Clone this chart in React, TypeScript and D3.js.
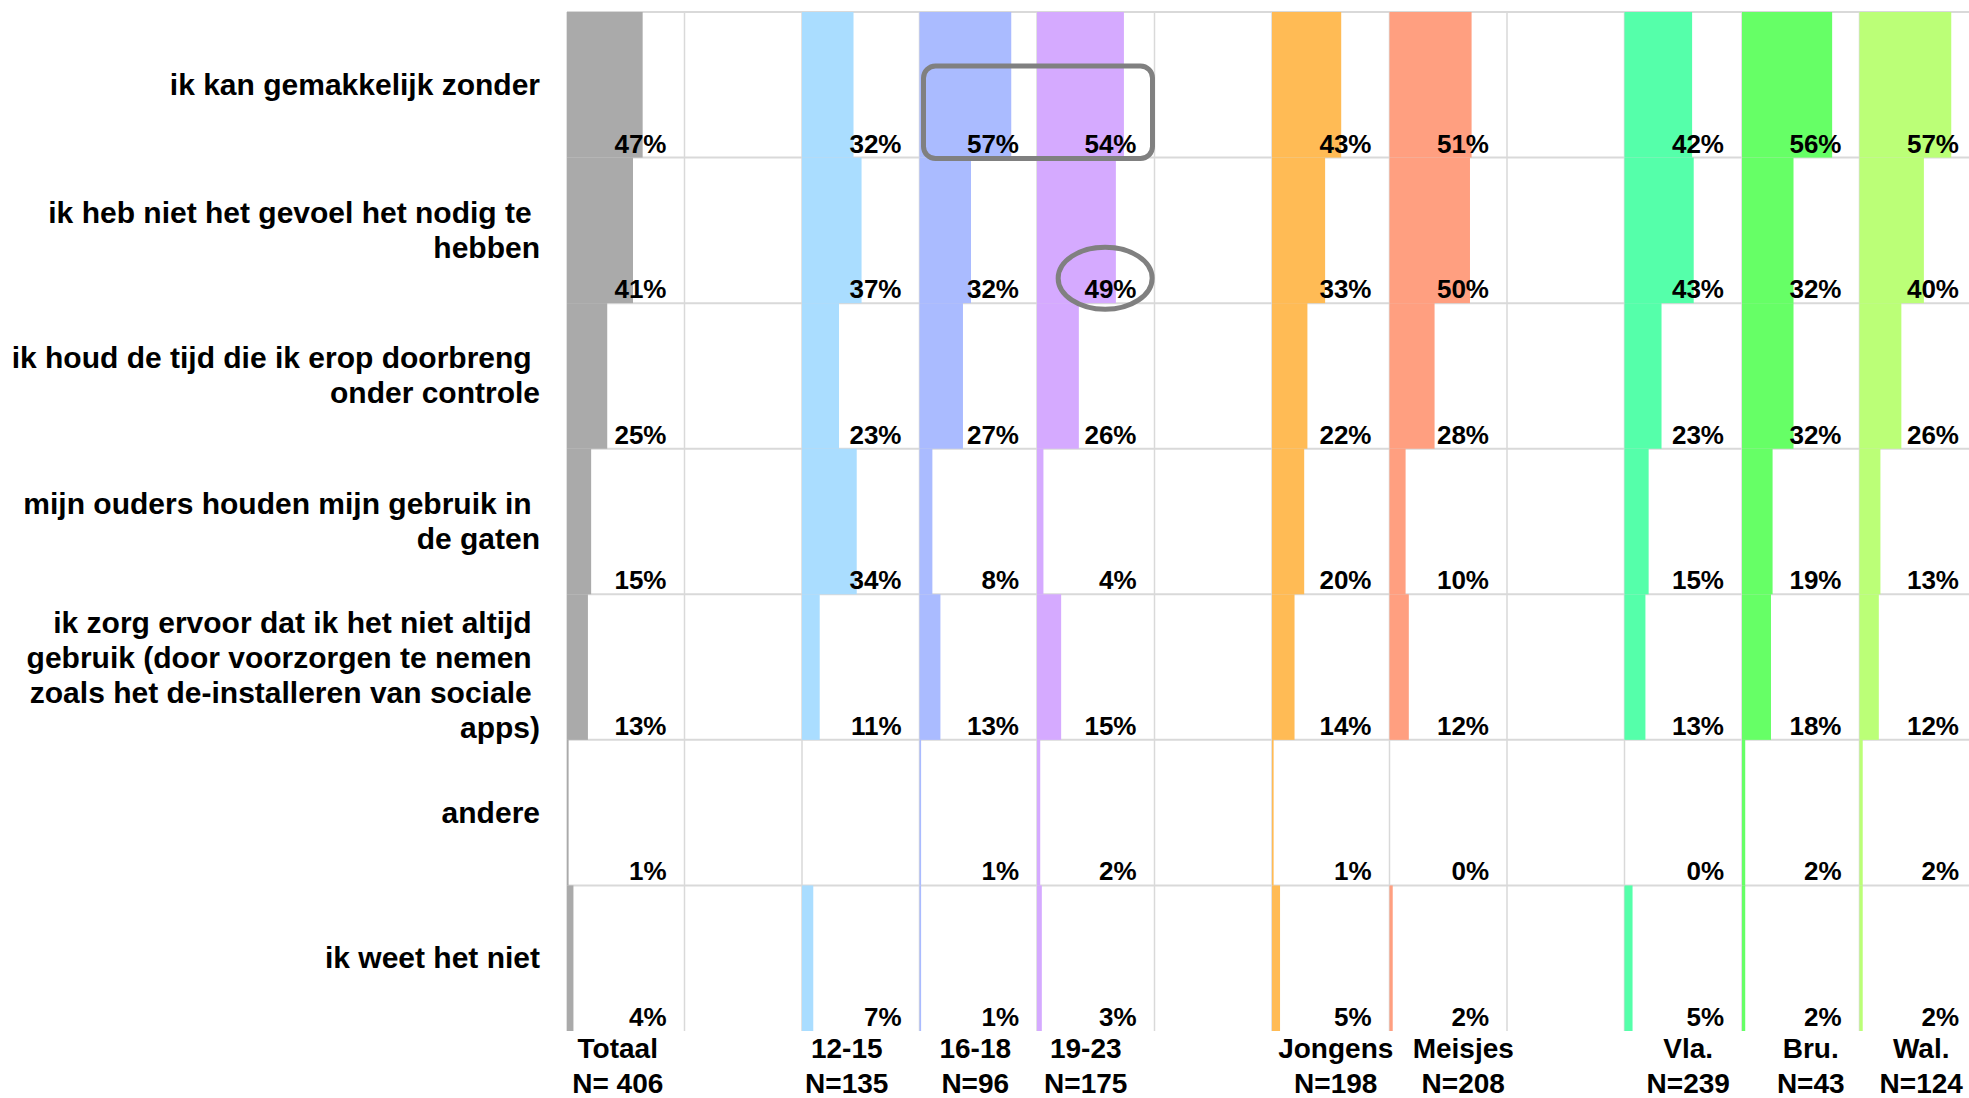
import { useEffect, useRef } from 'react';
import * as d3 from 'd3';

// answer categories (lines split as in the original labels)
const categories = [
  ["ik kan gemakkelijk zonder"],
  ["ik heb niet het gevoel het nodig te ", "hebben"],
  ["ik houd de tijd die ik erop doorbreng ", "onder controle"],
  ["mijn ouders houden mijn gebruik in ", "de gaten"],
  ["ik zorg ervoor dat ik het niet altijd ", "gebruik (door voorzorgen te nemen ", "zoals het de-installeren van sociale ", "apps)"],
  ["andere"],
  ["ik weet het niet"],
];

// column slots, gaps are empty columns between the groups
const slots = ["Totaal", "gap1", "12-15", "16-18", "19-23", "gap2", "Jongens", "Meisjes", "gap3", "Vla.", "Bru.", "Wal."];

const groups = ["Totaal", "12-15", "16-18", "19-23", "Jongens", "Meisjes", "Vla.", "Bru.", "Wal."];
const sampleSizes = ["N= 406", "N=135", "N=96", "N=175", "N=198", "N=208", "N=239", "N=43", "N=124"];
const groupColors = ["#aaaaaa", "#aaddff", "#aabbff", "#d5aaff", "#ffbb55", "#ff9f80", "#55ffaa", "#66ff66", "#bbff77"];

// percentages per group, in category order (null = no value)
const totaal = [47, 41, 25, 15, 13, 1, 4];
const age1215 = [32, 37, 23, 34, 11, null, 7];
const age1618 = [57, 32, 27, 8, 13, 1, 1];
const age1923 = [54, 49, 26, 4, 15, 2, 3];
const jongens = [43, 33, 22, 20, 14, 1, 5];
const meisjes = [51, 50, 28, 10, 12, 0, 2];
const vla = [42, 43, 23, 15, 13, 0, 5];
const bru = [56, 32, 32, 19, 18, 2, 2];
const wal = [57, 40, 26, 13, 12, 2, 2];

const seriesValues = [totaal, age1215, age1618, age1923, jongens, meisjes, vla, bru, wal];

export default function App() {
  const svgRef = useRef<SVGSVGElement>(null);

  useEffect(() => {
    document.body.style.margin = "0";
    document.body.style.overflow = "hidden";
    if (!svgRef.current) return;

    const svg = d3.select(svgRef.current);
    svg.selectAll("*").remove();

    const width = 1969;
    const height = 1098;
    const margin = { top: 12, left: 567, bottom: 67 };
    const font = "'Liberation Sans', Arial, sans-serif";
    // the header labels are not exactly centred in the original
    const headerShift = [-8, -14, -3, -10, 5, 15, 5, 10, 3];

    const xBand = d3.scaleBand<string>()
      .domain(slots)
      .range([margin.left, 1977])
      .padding(0);
    const colW = xBand.bandwidth();

    const yBand = d3.scaleBand<number>()
      .domain(d3.range(categories.length))
      .range([margin.top, height - margin.bottom])
      .padding(0);
    const rowH = yBand.bandwidth();

    // bar length inside one column
    const xVal = d3.scaleLinear().domain([0, 73]).range([0, colW]);

    const grid = svg.append("g").attr("class", "grid");

    // vertical grid lines at each column boundary
    grid.selectAll("line.v")
      .data(slots)
      .enter()
      .append("line")
      .attr("x1", d => xBand(d)!)
      .attr("x2", d => xBand(d)!)
      .attr("y1", margin.top)
      .attr("y2", height - margin.bottom)
      .attr("stroke", "#d9d9d9")
      .attr("stroke-width", 1.5);

    // horizontal grid lines at each row top
    grid.selectAll("line.h")
      .data(d3.range(categories.length))
      .enter()
      .append("line")
      .attr("x1", margin.left)
      .attr("x2", width)
      .attr("y1", d => yBand(d)!)
      .attr("y2", d => yBand(d)!)
      .attr("stroke", "#d9d9d9")
      .attr("stroke-width", 2);

    // bars + value labels per group
    groups.forEach((g, gi) => {
      const vals = seriesValues[gi];
      const x0 = xBand(g)!;
      const col = svg.append("g").attr("class", "group");
      const pts = vals.map((v, i) => ({ v, i })).filter(d => d.v !== null);

      col.selectAll("rect")
        .data(pts)
        .enter()
        .append("rect")
        .attr("x", x0)
        .attr("y", d => yBand(d.i)!)
        .attr("width", d => xVal(d.v as number))
        .attr("height", rowH)
        .attr("fill", groupColors[gi]);

      col.selectAll("text")
        .data(pts)
        .enter()
        .append("text")
        .attr("x", x0 + colW - 18)
        .attr("y", d => yBand(d.i)! + rowH - 5)
        .attr("text-anchor", "end")
        .attr("font-family", font)
        .attr("font-weight", "bold")
        .attr("font-size", 26)
        .attr("fill", "#000")
        .text(d => `${d.v}%`);

      // column header
      const cx = x0 + colW / 2 + headerShift[gi];
      const hdr = svg.append("text")
        .attr("text-anchor", "middle")
        .attr("font-family", font)
        .attr("font-weight", "bold")
        .attr("font-size", 28)
        .attr("fill", "#000");
      hdr.append("tspan").attr("x", cx).attr("y", 1058).text(g);
      hdr.append("tspan").attr("x", cx).attr("y", 1093).text(sampleSizes[gi]);
    });

    // category labels
    categories.forEach((lines, i) => {
      const lh = 35;
      const cy = yBand(i)! + rowH / 2 + (lines.length > 3 ? 8 : 0);
      const firstBase = cy - ((lines.length - 1) * lh) / 2 + 10;
      const t = svg.append("text")
        .attr("text-anchor", "end")
        .attr("font-family", font)
        .attr("font-weight", "bold")
        .attr("font-size", 30)
        .attr("fill", "#000")
        .style("white-space", "pre");
      lines.forEach((ln, li) => {
        t.append("tspan")
          .attr("x", 540)
          .attr("y", firstBase + li * lh)
          .text(ln);
      });
    });

    // highlight: rounded box around 16-18 and 19-23 in first row
    const annot = svg.append("g").attr("fill", "none").attr("stroke", "#808080").attr("stroke-width", 5);
    annot.append("rect")
      .attr("x", xBand("16-18")! + 4)
      .attr("y", yBand(0)! + 54)
      .attr("width", xBand("19-23")! + colW - 2 - (xBand("16-18")! + 4))
      .attr("height", rowH - 53)
      .attr("rx", 12)
      .attr("ry", 12);

    // ellipse around 19-23 in second row
    annot.append("ellipse")
      .attr("cx", xBand("19-23")! + colW * 0.58)
      .attr("cy", yBand(1)! + rowH - 25)
      .attr("rx", 47)
      .attr("ry", 31);
  }, []);

  return (
    <div style={{ width: 1969, height: 1098 }}>
      <svg ref={svgRef} width={1969} height={1098} style={{ display: "block" }} />
    </div>
  );
}
